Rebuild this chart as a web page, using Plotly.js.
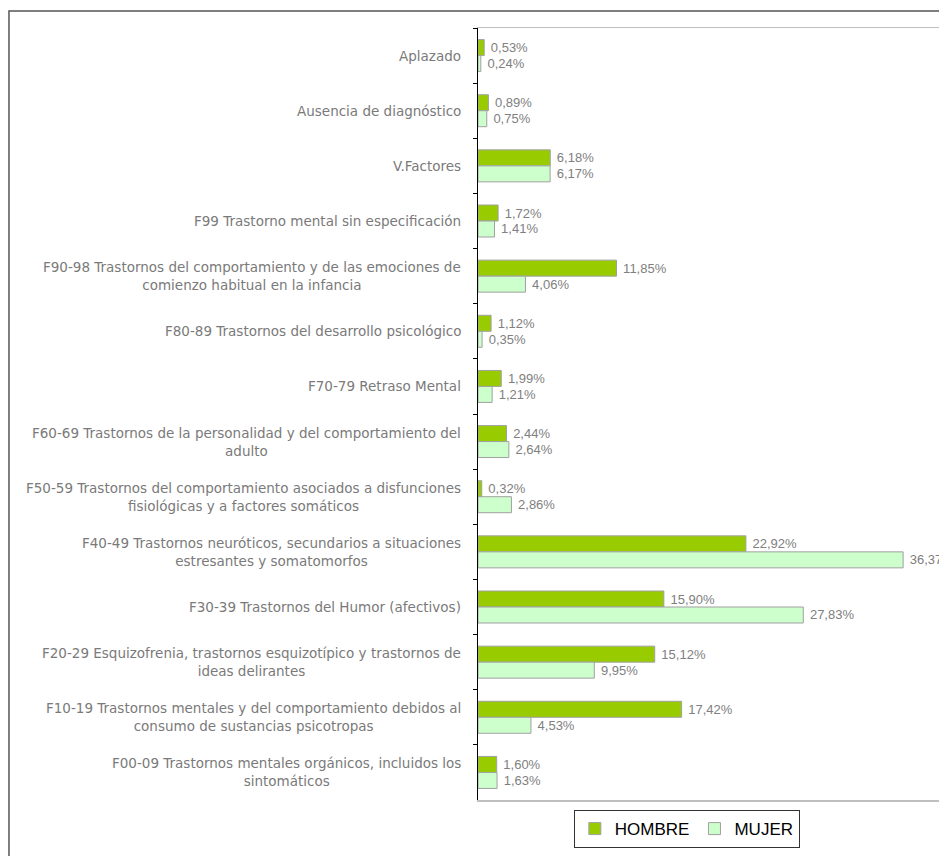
<!DOCTYPE html>
<html>
<head>
<meta charset="utf-8">
<script src="https://cdn.plot.ly/plotly-3.0.1.min.js"></script>
<style>html,body{margin:0;padding:0;background:#fff;}#chart{width:939px;height:856px;}</style>
</head>
<body>
<div id="chart"></div>
<script>
const categories = [
  "Aplazado",
  "Ausencia de diagnóstico",
  "V.Factores",
  "F99 Trastorno mental sin especificación",
  "F90-98 Trastornos del comportamiento y de las emociones de<br>comienzo habitual en la infancia",
  "F80-89 Trastornos del desarrollo psicológico",
  "F70-79 Retraso Mental",
  "F60-69 Trastornos de la personalidad y del comportamiento del<br>adulto",
  "F50-59 Trastornos del comportamiento asociados a disfunciones<br>fisiológicas y a factores somáticos",
  "F40-49 Trastornos neuróticos, secundarios a situaciones<br>estresantes y somatomorfos",
  "F30-39 Trastornos del Humor (afectivos)",
  "F20-29 Esquizofrenia, trastornos esquizotípico y trastornos de<br>ideas delirantes",
  "F10-19 Trastornos mentales y del comportamiento debidos al<br>consumo de sustancias psicotropas",
  "F00-09 Trastornos mentales orgánicos, incluidos los<br>sintomáticos"
];
const hombre = [0.53, 0.89, 6.18, 1.72, 11.85, 1.12, 1.99, 2.44, 0.32, 22.92, 15.90, 15.12, 17.42, 1.60];
const mujer  = [0.24, 0.75, 6.17, 1.41, 4.06, 0.35, 1.21, 2.64, 2.86, 36.37, 27.83, 9.95, 4.53, 1.63];

const valueFont = {family: "Liberation Sans, Arial, sans-serif", size: 13, color: "#808080"};

const traces = [
  {type: "bar", orientation: "h", name: "HOMBRE", y: categories, x: hombre,
   marker: {color: "#99CC00", line: {color: "#A0A0A0", width: 1}},
   texttemplate: " %{x:.2f}%", textposition: "outside", textfont: valueFont,
   constraintext: "none", cliponaxis: true, hoverinfo: "skip"},
  {type: "bar", orientation: "h", name: "MUJER", y: categories, x: mujer,
   marker: {color: "#CCFFCC", line: {color: "#A0A0A0", width: 1}},
   texttemplate: " %{x:.2f}%", textposition: "outside", textfont: valueFont,
   constraintext: "none", cliponaxis: true, hoverinfo: "skip"}
];

const annotations = categories.map(c => ({
  xref: "paper", yref: "y", x: 0, y: c, xanchor: "right", yanchor: "middle",
  xshift: -15, text: c, showarrow: false, align: "center",
  font: {family: "DejaVu Sans, sans-serif", size: 13.5, color: "#7a7a7a"}
}));

const layout = {
  width: 939, height: 856,
  margin: {l: 478, r: 0, t: 28, b: 56, pad: 0},
  paper_bgcolor: "#fff", plot_bgcolor: "#fff",
  separators: ",.",
  barmode: "group", bargap: 0.42, bargroupgap: 0,
  showlegend: true,
  legend: {orientation: "h", x: 0.453, xanchor: "center", y: -0.013, yanchor: "top",
           bordercolor: "#333", borderwidth: 1, itemwidth: 30, tracegroupgap: 0,
           font: {family: "Liberation Sans, Arial, sans-serif", size: 17, color: "#000"}},
  xaxis: {range: [0, 39.44], showgrid: false, zeroline: false, showticklabels: false,
          ticks: "", showline: true, mirror: true, linecolor: "#BFBFBF", linewidth: 1.5, fixedrange: true},
  yaxis: {type: "category", autorange: "reversed", showgrid: false, zeroline: false,
          showticklabels: false, showline: true, linecolor: "#000", linewidth: 1.5,
          ticks: "outside", ticklen: 4, tickcolor: "#000", tickson: "boundaries", fixedrange: true},
  annotations: annotations,
  shapes: [{type: "rect", xref: "paper", yref: "paper",
            x0: -1.0174, x1: 1.1, y0: -0.2, y1: 1.022,
            line: {color: "#555", width: 1.5}, fillcolor: "rgba(0,0,0,0)", layer: "below"}]
};

Plotly.newPlot("chart", traces, layout, {displayModeBar: false, staticPlot: true});
</script>
</body>
</html>
